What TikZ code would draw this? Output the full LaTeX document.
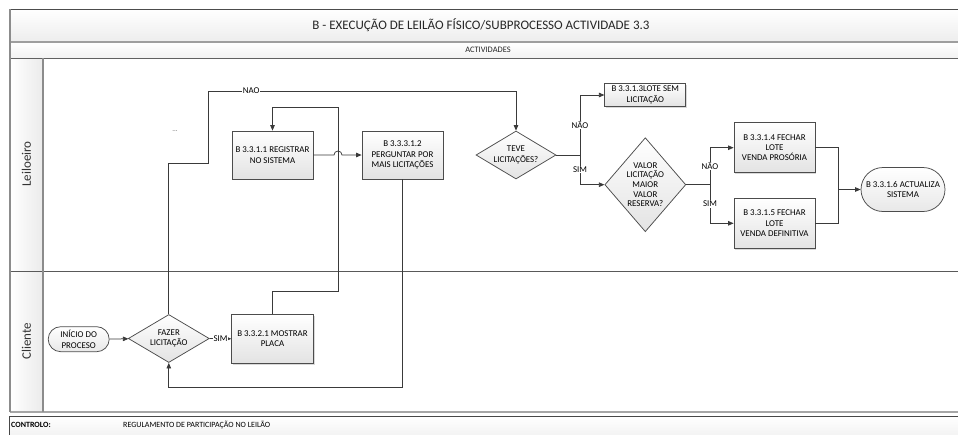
\documentclass[tikz,border=0pt]{standalone}
\usepackage{fontspec}
\setmainfont{Carlito}
\usetikzlibrary{shapes.geometric,shapes.misc,arrows.meta,shadows}

\definecolor{edgecol}{HTML}{3A3A3A}
\definecolor{boxline}{HTML}{4C4C4C}

\tikzset{
  boxfont/.style={font=\fontsize{8.9}{10.3}\selectfont},
  procbox/.style={boxfont, draw=boxline, line width=0.75pt, rectangle, align=center,
    top color=white, bottom color=black!11, inner sep=1pt,
    drop shadow={shadow xshift=1.3pt, shadow yshift=-1.3pt, opacity=0.3},
    minimum width=81pt},
  termbox/.style={boxfont, draw=boxline, line width=0.75pt, rounded rectangle, align=center,
    top color=white, bottom color=black!9, inner sep=1pt},
  decision/.style={draw=boxline, line width=0.75pt, diamond, inner sep=0pt,
    top color=white, bottom color=black!11},
  dtext/.style={boxfont, align=center, inner sep=0pt},
  flow/.style={draw=edgecol, line width=0.75pt},
  arr/.style={flow, -{Triangle[length=5.5pt,width=4.5pt]}},
  tag/.style={boxfont, fill=white, inner sep=0.6pt},
}

\begin{document}
\begin{tikzpicture}[x=1pt,y=-1pt]
\useasboundingbox (0,0) rectangle (958,434);

% ---- pool frame ----
\shade[top color=white, bottom color=black!7] (10,9) rectangle (962,42);
\shade[top color=white, bottom color=black!5] (10,42) rectangle (962,58);
\shade[left color=white, right color=black!8] (10,58) rectangle (43,412);
\shade[top color=white, bottom color=black!6] (9,416) rectangle (962,440);
\draw[black!70, line width=1pt] (10,9) -- (962,9);
\draw[black!38, line width=1.8pt] (10,42) -- (962,42);
\draw[black!62, line width=0.9pt] (10,58) -- (962,58);
\draw[black!65, line width=0.9pt] (10,271) -- (962,271);
\draw[black!35, line width=1.8pt] (10,412) -- (962,412);
\draw[black!45, line width=1.4pt] (10,9) -- (10,412);
\draw[black!45, line width=1.2pt] (43,58) -- (43,412);
\draw[black!72, line width=0.9pt] (962,416) -- (9,416) -- (9,440);

\node[font=\fontsize{13}{15}\selectfont, text=black!85] (title) at (481,25)
  {B - EXECUÇÃO DE LEILÃO FÍSICO/SUBPROCESSO ACTIVIDADE 3.3};
\node[font=\fontsize{8.4}{9}\selectfont, text=black!85] (acts) at (488,50) {ACTIVIDADES};
\node[font=\fontsize{13}{15}\selectfont, text=black!80, rotate=90] (laneA) at (26.5,164) {Leiloeiro};
\node[font=\fontsize{13}{15}\selectfont, text=black!80, rotate=90] (laneB) at (26.5,341) {Cliente};
\node[font=\bfseries\fontsize{8}{9}\selectfont, anchor=west, inner sep=0pt] (ctl) at (11,425) {CONTROLO:};
\node[font=\fontsize{8}{9}\selectfont, anchor=west, inner sep=0pt] (reg) at (123,425)
  {REGULAMENTO DE PARTICIPAÇÃO NO LEILÃO};

% ---- activities ----
\node[procbox, minimum height=48pt] (registrar) at (272.5,155) {B 3.3.1.1 REGISTRAR\\NO SISTEMA};
\node[procbox, minimum height=48pt] (perguntar) at (402.5,155) {B 3.3.3.1.2\\PERGUNTAR POR\\MAIS LICITAÇÕES};
\node[procbox, minimum height=23.5pt] (semlic) at (645.3,95) {B 3.3.1.3LOTE SEM\\LICITAÇÃO};
\node[procbox, minimum height=50pt] (provis) at (774.5,147.7) {B 3.3.1.4 FECHAR\\LOTE\\VENDA PROSÓRIA};
\node[procbox, minimum height=50pt] (defin) at (774.5,223.3) {B 3.3.1.5 FECHAR\\LOTE\\VENDA DEFINITIVA};
\node[procbox, minimum height=49pt, minimum width=81.6pt] (mostrar) at (272.5,338.8) {B 3.3.2.1 MOSTRAR\\PLACA};
\node[termbox, minimum width=63pt, minimum height=25pt] (inicio) at (78.7,339.2) {INÍCIO DO\\PROCESO};
\node[termbox, minimum width=86pt, minimum height=44pt] (actualiza) at (903,189.5) {B 3.3.1.6 ACTUALIZA\\SISTEMA};

\node[decision, minimum width=81pt, minimum height=48pt] (fazer) at (168.8,338.5) {};
\node[dtext] at (fazer) {FAZER\\LICITAÇÃO};
\node[decision, minimum width=80pt, minimum height=48pt] (teve) at (516,155) {};
\node[dtext] at (teve) {TEVE\\LICITAÇÕES?};
\node[decision, minimum width=81pt, minimum height=94pt] (valor) at (645.3,184.7) {};
\node[dtext, font=\fontsize{8.9}{9.7}\selectfont] at (valor) {VALOR\\LICITAÇÃO\\MAIOR\\VALOR\\RESERVA?};

\node[font=\fontsize{7}{8}\selectfont, text=black!60] (dots) at (175,131) {...};

% ---- junction points ----
\coordinate (nUp) at (208,91);
\coordinate (jTeve) at (580,155);
\coordinate (jValor) at (710,184.7);
\coordinate (jSys) at (838,189.5);
\coordinate (loopTop) at (338,107);
\coordinate (loopLow) at (338,291);
\coordinate (backLow) at (402.5,387);

% ---- connectors ----
\draw[arr] (inicio) -- (fazer);
\draw[arr] (fazer.east) -- node[tag] {SIM} (mostrar.west);
\draw[arr] (fazer.north) |- (nUp |- 0,163) -- (nUp) -- node[tag, pos=0.14] {NAO} (teve.north |- nUp) -- (teve.north);
\draw[arr] (mostrar.north) |- (loopLow) -- (loopTop) -| (registrar.north);
\draw[arr] (registrar.east) -- (334,155) arc (180:360:4) -- (perguntar.west);
\draw[arr] (perguntar.south) -- (backLow) -| (fazer.south);

\draw[flow] (teve.east) -- (jTeve);
\draw[arr] (jTeve) |- node[tag, pos=0.25] {NÃO} (semlic.west);
\draw[arr] (jTeve) |- node[tag, pos=0.25] {SIM} (valor.west);

\draw[flow] (valor.east) -- (jValor);
\draw[arr] (jValor) |- node[tag, pos=0.25] {NÃO} (provis.west);
\draw[arr] (jValor) |- node[tag, pos=0.25] {SIM} (defin.west);

\draw[flow] (provis.east) -| (jSys);
\draw[flow] (defin.east) -| (jSys);
\draw[arr] (jSys) -- (actualiza.west);
\end{tikzpicture}
\end{document}
